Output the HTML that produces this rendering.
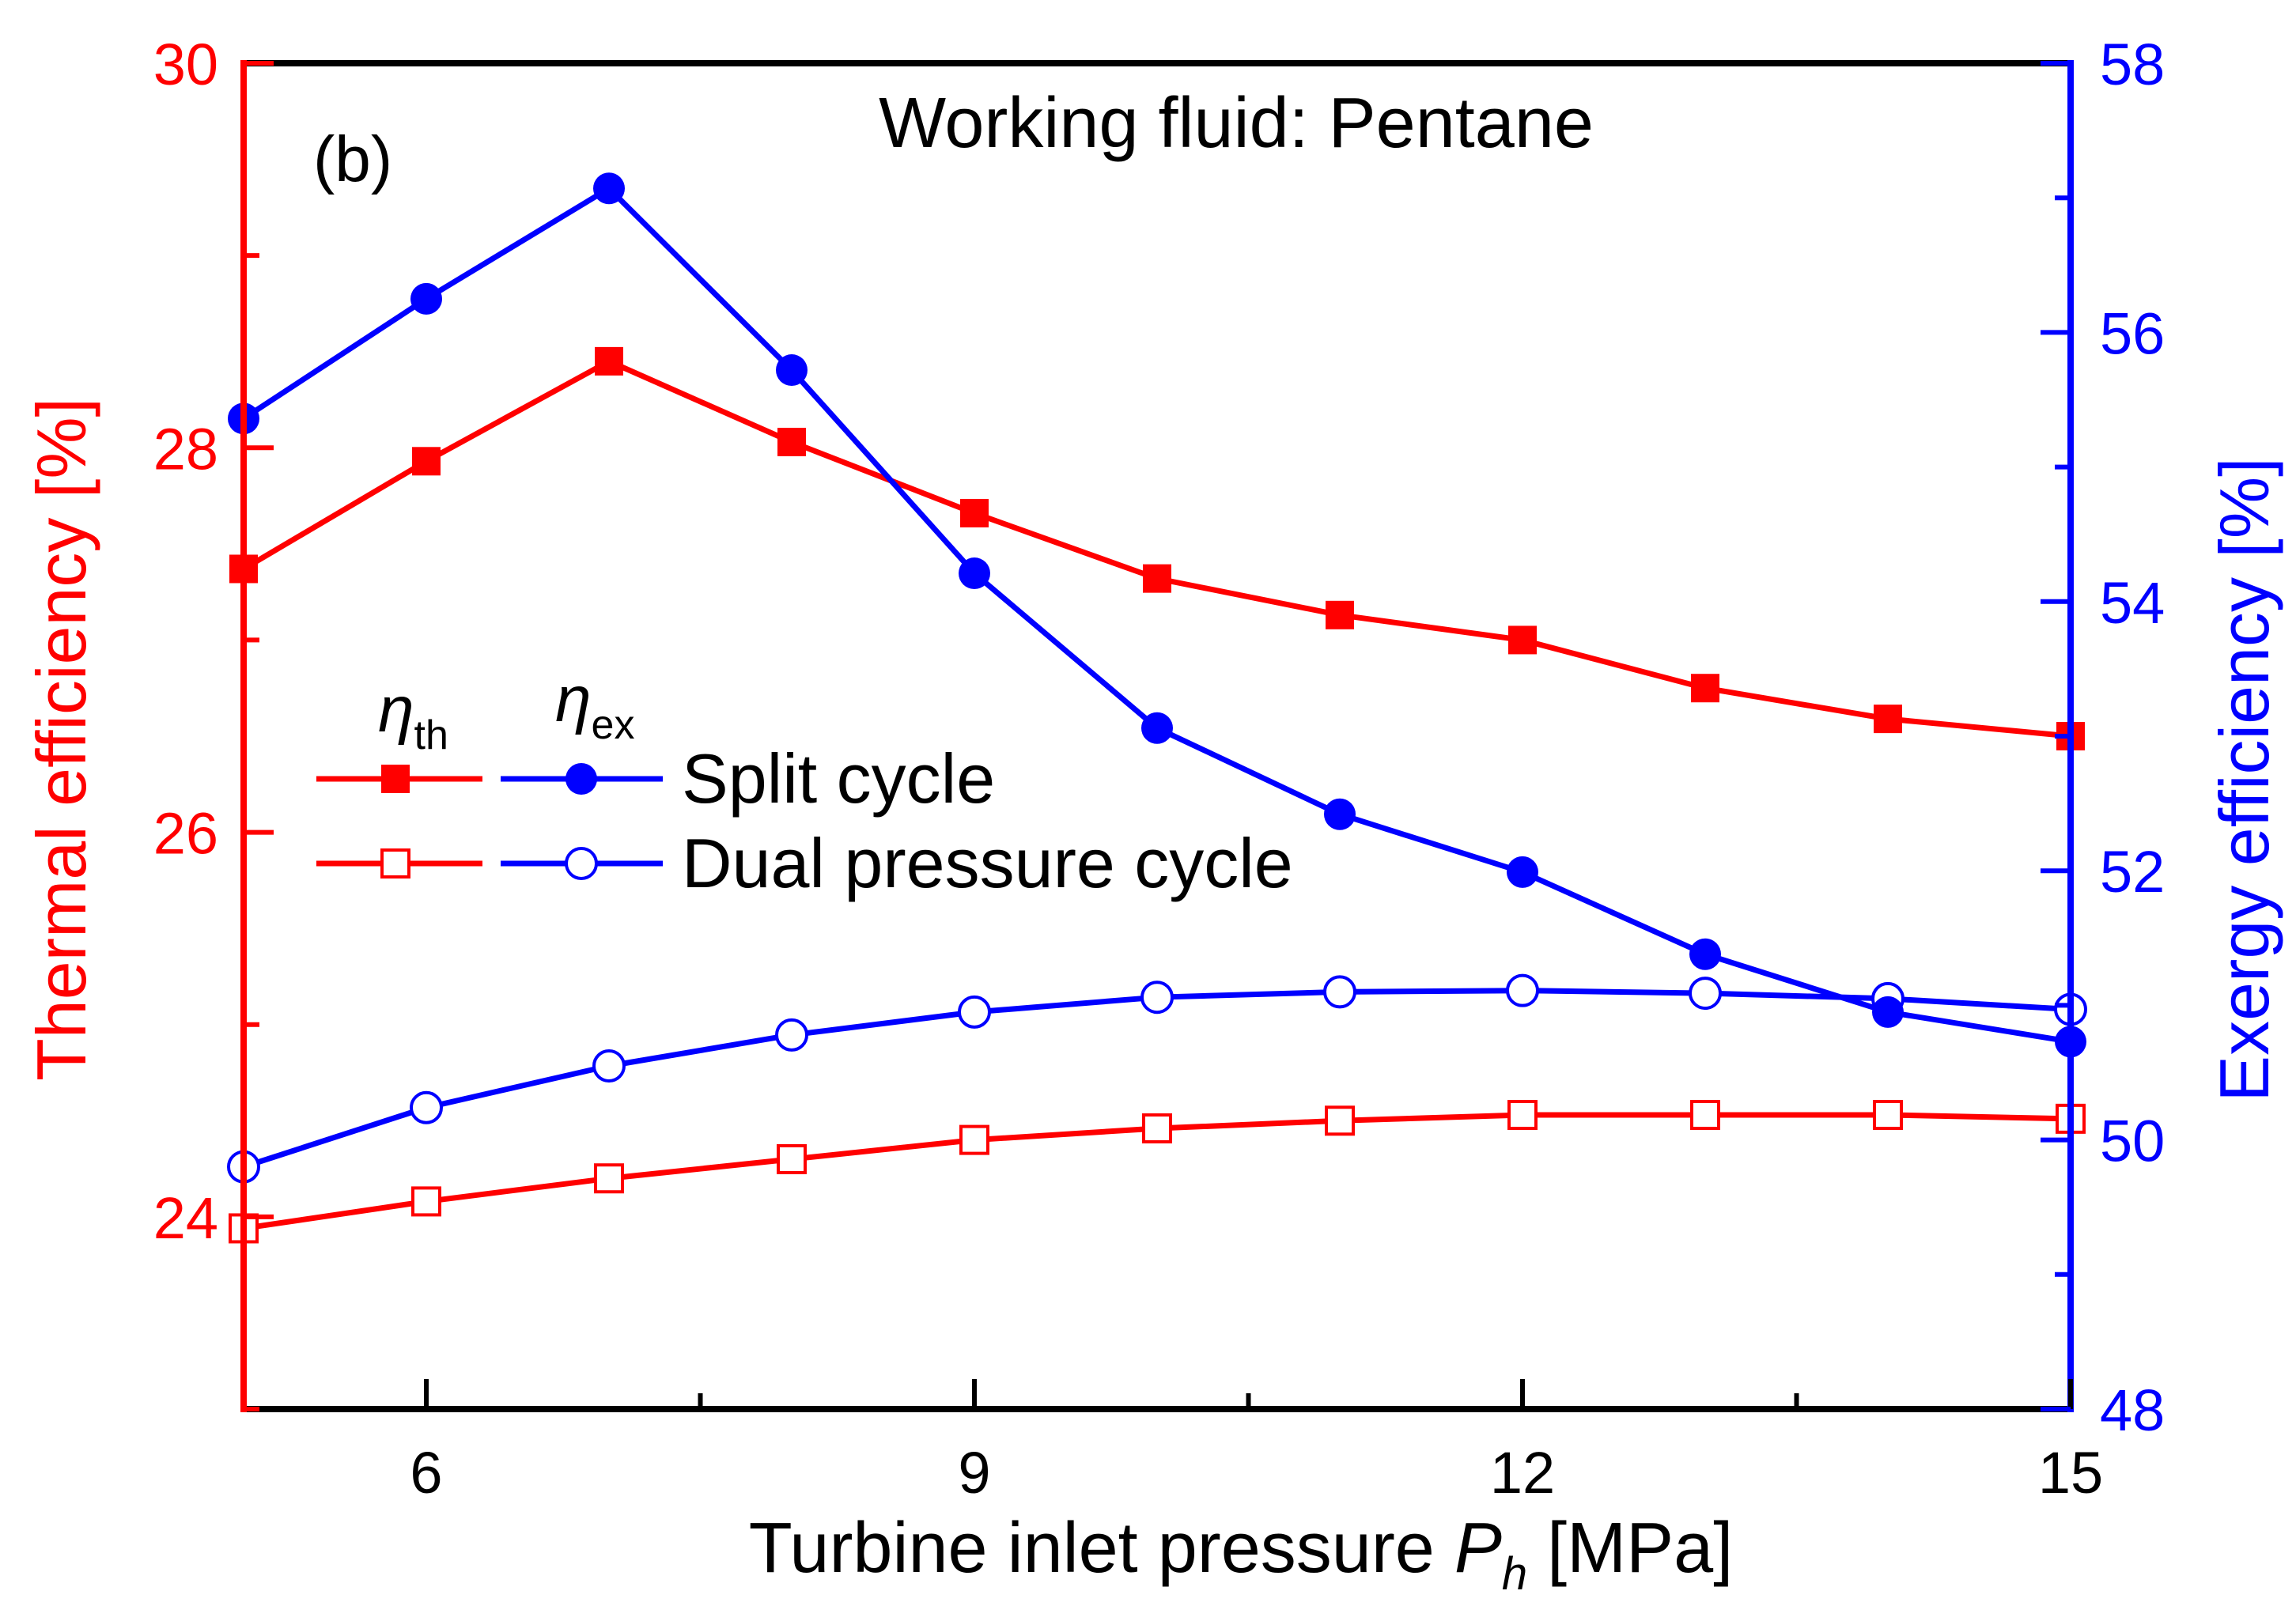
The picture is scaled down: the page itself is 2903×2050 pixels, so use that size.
<!DOCTYPE html>
<html><head><meta charset="utf-8"><style>
html,body{margin:0;padding:0;background:#fff}
svg{display:block}
text{font-family:"Liberation Sans",Arial,sans-serif}
</style></head><body>
<svg id="chart" xmlns="http://www.w3.org/2000/svg" width="2903" height="2050" viewBox="0 0 2903 2050">
<g id="marks"></g>
<g id="axes"></g>
<text x="1563" y="186" font-size="90" text-anchor="middle">Working fluid: Pentane</text>
<text x="396" y="229" font-size="82">(b)</text>
<text x="1569" y="1988" font-size="90" text-anchor="middle">Turbine inlet pressure <tspan font-style="italic">P</tspan><tspan font-style="italic" font-size="58" dy="22">h</tspan><tspan dy="-22"> [MPa]</tspan></text>
<text transform="translate(108,935) rotate(-90)" font-size="88" fill="#ff0000" text-anchor="middle">Thermal efficiency [%]</text>
<text transform="translate(2868,986) rotate(-90)" font-size="88" fill="#0000ff" text-anchor="middle">Exergy efficiency [%]</text>
<g>
  <text x="478" y="925" font-size="82" font-style="italic" font-family="'Liberation Serif',serif">η<tspan font-family="'Liberation Sans',sans-serif" font-style="normal" font-size="52" dy="22">th</tspan></text>
  <text x="702" y="912" font-size="82" font-style="italic" font-family="'Liberation Serif',serif">η<tspan font-family="'Liberation Sans',sans-serif" font-style="normal" font-size="52" dy="22">ex</tspan></text>
  <g>
    <line x1="400" y1="985" x2="610" y2="985" stroke="#ff0000" stroke-width="7"/>
    <rect x="482" y="967" width="36" height="36" fill="#ff0000"/>
    <line x1="633" y1="985" x2="838" y2="985" stroke="#0000ff" stroke-width="7"/>
    <circle cx="735" cy="985" r="20" fill="#0000ff"/>
    <text x="862" y="1015" font-size="88">Split cycle</text>
  </g>
  <g>
    <line x1="400" y1="1092" x2="610" y2="1092" stroke="#ff0000" stroke-width="7"/>
    <rect x="483" y="1075" width="34" height="34" fill="#fff" stroke="#ff0000" stroke-width="4"/>
    <line x1="633" y1="1092" x2="838" y2="1092" stroke="#0000ff" stroke-width="7"/>
    <circle cx="735" cy="1092" r="19" fill="#fff" stroke="#0000ff" stroke-width="4"/>
    <text x="862" y="1122" font-size="88">Dual pressure cycle</text>
  </g>
</g>
</svg>
<script>
const pressures = [5,6,7,8,9,10,11,12,13,14,15];
const splitThermal = [27.37,27.93,28.45,28.03,27.66,27.32,27.13,27.00,26.75,26.59,26.50];
const dualThermal = [23.94,24.08,24.20,24.30,24.40,24.46,24.50,24.53,24.53,24.53,24.51];
const splitExergy = [55.36,56.25,57.07,55.72,54.21,53.06,52.42,51.99,51.38,50.95,50.73];
const dualExergy = [49.80,50.24,50.55,50.78,50.95,51.06,51.10,51.11,51.09,51.05,50.97];
const xTicks = [6,9,12,15];
const xMinorTicks = [7.5,10.5,13.5];
const leftTicks = [24,26,28,30];
const leftMinor = [23,25,27,29];
const rightTicks = [48,50,52,54,56,58];
const rightMinor = [49,51,53,55,57];

const L=308,R=2618,T=80,B=1782;
const X=v=>L+(v-5)/(15-5)*(R-L);
const YL=v=>T+(30-v)/(30-23)*(B-T);
const YR=v=>T+(58-v)/(58-48)*(B-T);
const NS='http://www.w3.org/2000/svg';
const marks=document.getElementById('marks');
const axes=document.getElementById('axes');
function mk(tag,attrs,parent){const e=document.createElementNS(NS,tag);for(const k in attrs)e.setAttribute(k,attrs[k]);parent.appendChild(e);return e;}

function series(vals,yf,color,name,kind,filled){
  const g=mk('g',{},marks);
  
  
  const pts=pressures.map((p,i)=>X(p)+','+yf(vals[i])).join(' ');
  const pl=mk('polyline',{points:pts,fill:'none',stroke:color,'stroke-width':7,'stroke-linejoin':'round'},g);
  
  
  pressures.forEach((p,i)=>{
    const cx=X(p),cy=yf(vals[i]);let m;
    if(kind==='sq'){
      m=filled?mk('rect',{x:cx-18,y:cy-18,width:36,height:36,fill:color},g)
              :mk('rect',{x:cx-17,y:cy-17,width:34,height:34,fill:'#fff',stroke:color,'stroke-width':4},g);
    }else{
      m=filled?mk('circle',{cx:cx,cy:cy,r:20,fill:color},g)
              :mk('circle',{cx:cx,cy:cy,r:19,fill:'#fff',stroke:color,'stroke-width':4},g);
    }
    
    
  });
}
series(dualThermal,YL,'#ff0000','dual-thermal-series','sq',false);
series(dualExergy,YR,'#0000ff','dual-exergy-series','ci',false);
series(splitThermal,YL,'#ff0000','split-thermal-series','sq',true);
series(splitExergy,YR,'#0000ff','split-exergy-series','ci',true);

const top_=mk('line',{x1:L,y1:T,x2:R,y2:T,stroke:'#000','stroke-width':8},axes);


const bot=mk('line',{x1:L,y1:B,x2:R,y2:B,stroke:'#000','stroke-width':8},axes);


const la=mk('line',{x1:L,y1:T-4,x2:L,y2:B+4,stroke:'#ff0000','stroke-width':8},axes);


const ra=mk('line',{x1:R,y1:T-4,x2:R,y2:B+4,stroke:'#0000ff','stroke-width':8},axes);



xTicks.forEach(v=>{
  const t=mk('line',{x1:X(v),y1:B,x2:X(v),y2:B-38,stroke:'#000','stroke-width':6},axes);
  
  
  const tx=mk('text',{x:X(v),y:1888,'font-size':74,'text-anchor':'middle'},axes);
  tx.textContent=v;
  
  
});
xMinorTicks.forEach(v=>{
  const t=mk('line',{x1:X(v),y1:B,x2:X(v),y2:B-20,stroke:'#000','stroke-width':6},axes);
  
  
});
leftTicks.forEach(v=>{
  const t=mk('line',{x1:L,y1:YL(v),x2:L+38,y2:YL(v),stroke:'#ff0000','stroke-width':6},axes);
  
  
  const tx=mk('text',{x:276,y:YL(v)+27,'font-size':74,'text-anchor':'end',fill:'#ff0000'},axes);
  tx.textContent=v;
  
  
});
leftMinor.forEach(v=>{
  const t=mk('line',{x1:L,y1:YL(v),x2:L+20,y2:YL(v),stroke:'#ff0000','stroke-width':6},axes);
  
  
});
rightTicks.forEach(v=>{
  const t=mk('line',{x1:R,y1:YR(v),x2:R-38,y2:YR(v),stroke:'#0000ff','stroke-width':6},axes);
  
  
  const tx=mk('text',{x:2655,y:YR(v)+27,'font-size':74,fill:'#0000ff'},axes);
  tx.textContent=v;
  
  
});
rightMinor.forEach(v=>{
  const t=mk('line',{x1:R,y1:YR(v),x2:R-20,y2:YR(v),stroke:'#0000ff','stroke-width':6},axes);
  
  
});
</script>
</body></html>
